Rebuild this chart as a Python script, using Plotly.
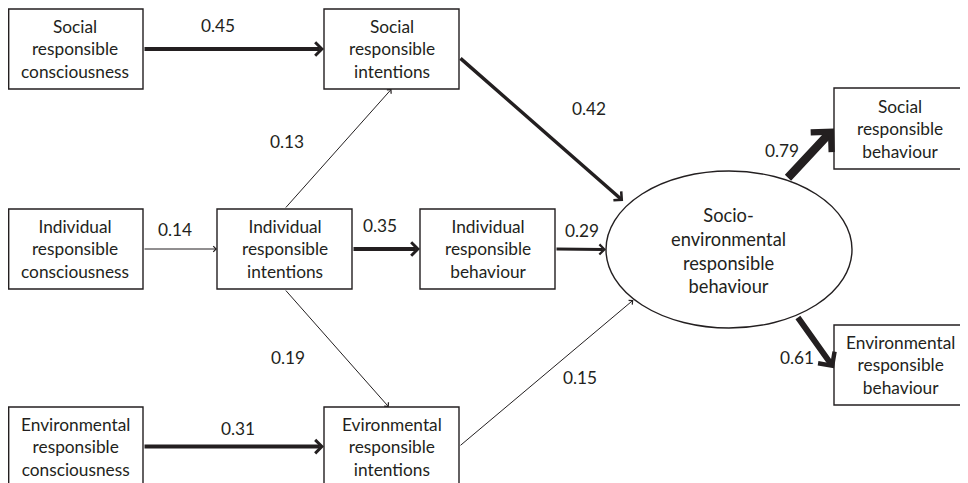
import math
import plotly.graph_objects as go

# ---------------- data ----------------
node_ids = ["SRC", "SRI", "IRC", "IRI", "IRB", "ERC", "ERI", "SERB", "SRB", "ERB"]
node_labels = [
    "Social<br>responsible<br>consciousness",
    "Social<br>responsible<br>intentions",
    "Individual<br>responsible<br>consciousness",
    "Individual<br>responsible<br>intentions",
    "Individual<br>responsible<br>behaviour",
    "Environmental<br>responsible<br>consciousness",
    "Evironmental<br>responsible<br>intentions",
    "Socio-<br>environmental<br>responsible<br>behaviour",
    "Social<br>responsible<br>behaviour",
    "Environmental<br>responsible<br>behaviour",
]
edge_from = ["SRC", "IRC", "IRI", "IRI", "IRI", "ERC", "SRI", "IRB", "ERI", "SERB", "SERB"]
edge_to = ["SRI", "IRI", "SRI", "IRB", "ERI", "ERI", "SERB", "SERB", "SERB", "SRB", "ERB"]
edge_coef = [0.45, 0.14, 0.13, 0.35, 0.19, 0.31, 0.42, 0.29, 0.15, 0.79, 0.61]

# ---------------- layout (positions / styles) ----------------
INK = "#231f20"
FAMILY = "Lato, 'Open Sans', sans-serif"
FONT = dict(family=FAMILY, size=17.3, color=INK)
FONT_ELL = dict(family=FAMILY, size=18.3, color=INK)

# The page body has an 8px margin, so the plot area starts at window pixel (8, 8);
# axis ranges are set so that one data unit == one window pixel (y down).
OFF = 8
W, H = 968, 483

# rect nodes: (x0, x1, y0, y1, text_x, text_y)
geom = {
    "SRC": (8.7, 143, 9, 89, 75, None),
    "SRI": (324, 459, 9, 89, None, None),
    "IRC": (8.7, 143, 209, 289, 75, None),
    "IRI": (217, 352, 209, 289, None, None),
    "IRB": (420, 555, 209, 289, None, None),
    "ERC": (8.7, 143, 407, 495, 75, 447),
    "ERI": (324, 459, 407, 495, 391.5, 447),
    "SERB": (606, 852, 171, 328, 728, 250),
    "SRB": (834, 980, 88, 169, 900, 128.5),
    "ERB": (834, 980, 325, 405, 900, 365),
}
ellipse_nodes = {"SERB"}

# anchors for each edge: (side, param[, radial factor])
edge_tail = [("right", 0.5), ("right", 0.5), ("top", 0.5), ("right", 0.5), ("bottom", 0.5),
             ("right", 0.45), ("right", 0.6), ("right", 0.5), ("right", 0.45),
             ("ell", -62.4, 1.01), ("ell", 56.9, 1.01)]
edge_head = [("left", 0.5), ("left", 0.5), ("bottom", 0.5), ("left", 0.5), ("top", 0.48),
             ("left", 0.45), ("ell", 215.7, 1.06), ("ell", 180, 1.0), ("ell", 140.4, 1.01),
             ("left", 0.5), ("left", 0.54)]
edge_width = [4, 1, 1, 4, 1, 4, 3.5, 3, 1, 8.5, 6]
edge_label_xy = [(218, 25), (175, 229), (287, 141), (380, 225), (288, 357), (238, 428),
                 (589, 108), (582, 230), (580, 377), (782, 150), (797, 357)]


def anchor(node, spec):
    x0, x1, y0, y1 = geom[node][:4]
    side = spec[0]
    if side == "ell":
        cx, cy = (x0 + x1) / 2, (y0 + y1) / 2
        rx, ry = (x1 - x0) / 2, (y1 - y0) / 2
        a = math.radians(spec[1])
        f = spec[2]
        return cx + f * rx * math.cos(a), cy + f * ry * math.sin(a)
    t = spec[1]
    if side == "right":
        return x1, y0 + t * (y1 - y0)
    if side == "left":
        return x0, y0 + t * (y1 - y0)
    if side == "top":
        return x0 + t * (x1 - x0), y0
    return x0 + t * (x1 - x0), y1


fig = go.Figure()
shapes = []
annotations = []

for nid, label in zip(node_ids, node_labels):
    x0, x1, y0, y1, tx, ty = geom[nid]
    is_ell = nid in ellipse_nodes
    shapes.append(dict(
        type="circle" if is_ell else "rect",
        xref="x", yref="y", x0=x0, x1=x1, y0=y0, y1=y1,
        line=dict(color=INK, width=1.4), fillcolor="white", layer="below",
    ))
    annotations.append(dict(
        x=tx if tx is not None else (x0 + x1) / 2,
        y=ty if ty is not None else (y0 + y1) / 2,
        xref="x", yref="y", text=label, showarrow=False,
        font=FONT_ELL if is_ell else FONT,
        xanchor="center", yanchor="middle", align="center",
    ))

for i, (src, dst, coef) in enumerate(zip(edge_from, edge_to, edge_coef)):
    tx, ty = anchor(src, edge_tail[i])
    hx, hy = anchor(dst, edge_head[i])
    w = edge_width[i]
    annotations.append(dict(
        x=hx, y=hy, ax=tx, ay=ty, xref="x", yref="y", axref="x", ayref="y",
        text="", showarrow=True, arrowhead=4,
        arrowsize=1.1 if w <= 1.5 else 0.65,
        arrowwidth=w, arrowcolor=INK, standoff=0,
    ))
    lx, ly = edge_label_xy[i]
    annotations.append(dict(
        x=lx, y=ly, xref="x", yref="y", text=f"{coef:.2f}", showarrow=False,
        font=FONT, xanchor="center", yanchor="middle",
    ))

fig.update_layout(
    width=W - OFF, height=H - OFF,
    margin=dict(l=0, r=0, t=0, b=0),
    paper_bgcolor="white", plot_bgcolor="white",
    xaxis=dict(range=[OFF, W], visible=False, fixedrange=True),
    yaxis=dict(range=[H, OFF], visible=False, fixedrange=True),
    shapes=shapes, annotations=annotations, showlegend=False,
)

fig.write_html("out.html")
